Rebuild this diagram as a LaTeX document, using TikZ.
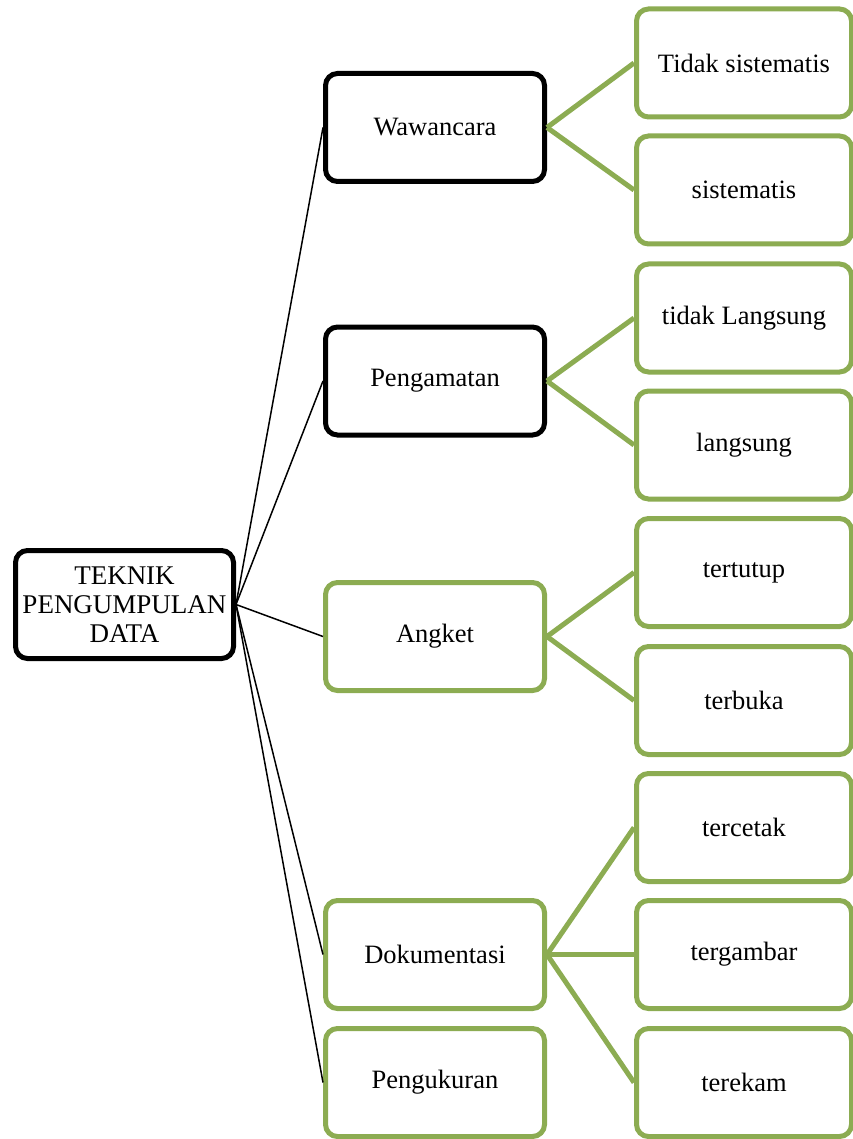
\documentclass[tikz,border=0pt]{standalone}
\usepackage{fontspec}
\setmainfont{Liberation Serif}
\usepackage{tikz}
\usetikzlibrary{positioning}
\definecolor{hijau}{RGB}{140,172,82}

\begin{document}
\begin{tikzpicture}[x=1pt, y=-1pt,
    every node/.style={rounded corners=12pt, line width=5pt, fill=white, align=center,
        minimum width=219pt, minimum height=108pt, font=\fontsize{26.5}{29}\selectfont},
    kotakhitam/.style={draw=black},
    kotakhijau/.style={draw=hijau},
    subkotak/.style={draw=hijau, minimum width=215pt},
    garis/.style={line width=1.5pt, black},
    cabang/.style={line width=5pt, hijau}]
    \useasboundingbox (0,0) rectangle (852,1139);

    % Akar (kiri)
    \node[kotakhitam, minimum width=218pt, inner sep=0pt, font=\fontsize{27}{29}\selectfont] (akar) at (124.5,604.5) {TEKNIK\\PENGUMPULAN\\DATA};

    % Teknik (tengah)
    \node[kotakhitam] (wawancara) at (435,127.5) {Wawancara};
    \node[kotakhitam] (pengamatan) at (435,381) {Pengamatan};
    \node[kotakhijau] (angket) at (435,636.5) {Angket};
    \node[kotakhijau] (dokumentasi) at (435,954.5) {Dokumentasi};
    \node[kotakhijau] (pengukuran) at (435,1082.5) {Pengukuran};

    % Jenis (kanan)
    \node[subkotak] (tidaksis) at (744,63) {Tidak sistematis};
    \node[subkotak] (sis) at (744,190) {sistematis};
    \node[subkotak] (tidaklgs) at (744,318) {tidak Langsung};
    \node[subkotak] (lgs) at (744,445) {langsung};
    \node[subkotak] (tertutup) at (744,572.5) {tertutup};
    \node[subkotak] (terbuka) at (744,700.5) {terbuka};
    \node[subkotak] (tercetak) at (744,827.5) {tercetak};
    \node[subkotak] (tergambar) at (744,954.5) {tergambar};
    \node[subkotak] (terekam) at (744,1082.5) {terekam};

    % Garis akar ke teknik
    \draw[garis] (akar.east) -- (wawancara.west);
    \draw[garis] (akar.east) -- (pengamatan.west);
    \draw[garis] (akar.east) -- (angket.west);
    \draw[garis] (akar.east) -- (dokumentasi.west);
    \draw[garis] (akar.east) -- (pengukuran.west);

    % Cabang teknik ke jenis
    \draw[cabang] (wawancara.east) -- (tidaksis.west);
    \draw[cabang] (wawancara.east) -- (sis.west);
    \draw[cabang] (pengamatan.east) -- (tidaklgs.west);
    \draw[cabang] (pengamatan.east) -- (lgs.west);
    \draw[cabang] (angket.east) -- (tertutup.west);
    \draw[cabang] (angket.east) -- (terbuka.west);
    \draw[cabang] (dokumentasi.east) -- (tercetak.west);
    \draw[cabang] (dokumentasi.east) -- (tergambar.west);
    \draw[cabang] (dokumentasi.east) -- (terekam.west);
\end{tikzpicture}
\end{document}
